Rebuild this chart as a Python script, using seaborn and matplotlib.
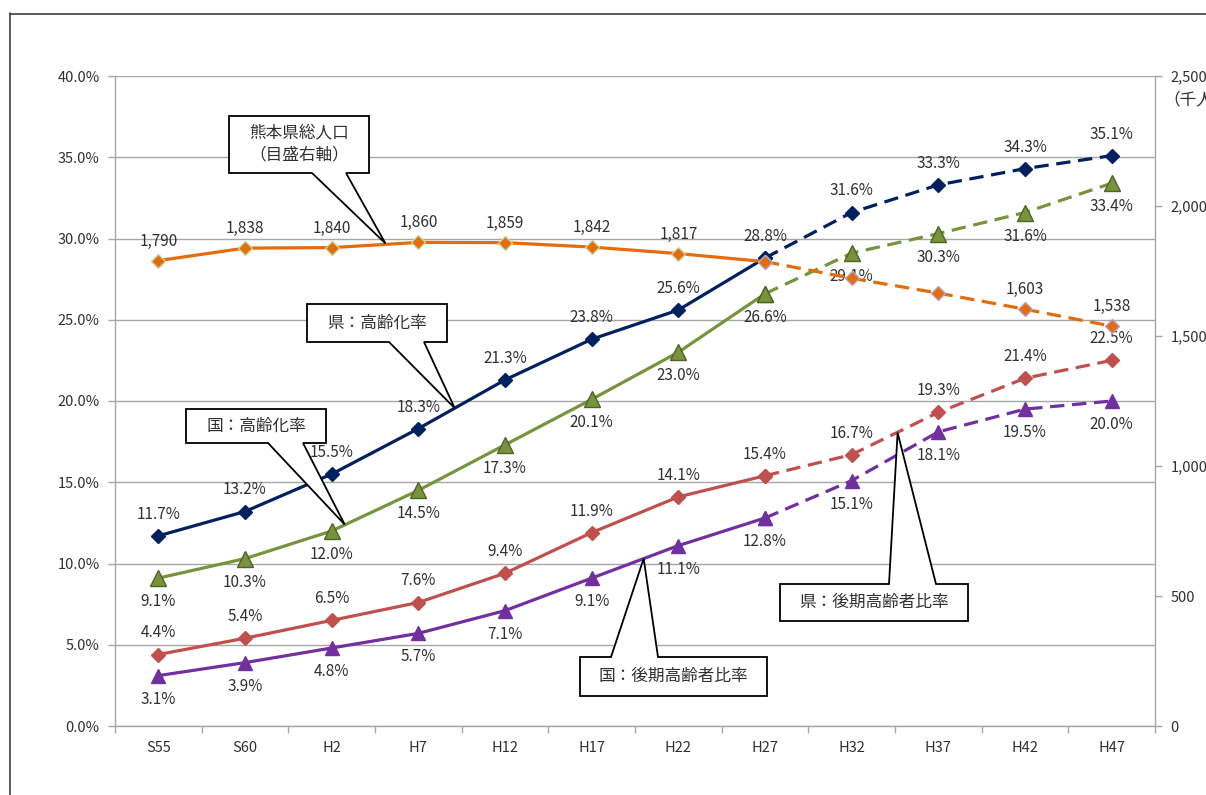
import numpy as np
import pandas as pd
import matplotlib
matplotlib.use("Agg")
import matplotlib.pyplot as plt
from matplotlib.patches import Polygon
from matplotlib.lines import Line2D
from matplotlib.ticker import FuncFormatter, FixedLocator
import seaborn as sns

# ---- data -------------------------------------------------------------
years = ["S55", "S60", "H2", "H7", "H12", "H17", "H22", "H27",
         "H32", "H37", "H42", "H47"]
pref_aging = [11.7, 13.2, 15.5, 18.3, 21.3, 23.8, 25.6, 28.8, 31.6, 33.3, 34.3, 35.1]
nation_aging = [9.1, 10.3, 12.0, 14.5, 17.3, 20.1, 23.0, 26.6, 29.1, 30.3, 31.6, 33.4]
pref_late = [4.4, 5.4, 6.5, 7.6, 9.4, 11.9, 14.1, 15.4, 16.7, 19.3, 21.4, 22.5]
nation_late = [3.1, 3.9, 4.8, 5.7, 7.1, 9.1, 11.1, 12.8, 15.1, 18.1, 19.5, 20.0]
population = [1790, 1838, 1840, 1860, 1859, 1842, 1817, 1786, 1722, 1665, 1603, 1538]
pop_labeled = [True, True, True, True, True, True, True, False, False, False, True, True]
last_actual = 7  # H27 is the last observed year; later points are projections

# ---- style ------------------------------------------------------------
sns.set_theme(style="white")
plt.rcParams["font.family"] = ["Noto Sans CJK JP", "DejaVu Sans"]
TXT = "#303030"
GRID = "#A6A6A6"

NAVY = "#002060"
GREEN = "#77933C"
GREEN_EDGE = "#4F6228"
RED = "#C0504D"
PURPLE = "#7030A0"
ORANGE = "#E46C0A"

W, H = 1206, 795
fig = plt.figure(figsize=(W / 100, H / 100), dpi=100)
L, R, T, B = 115, 1155, 76, 726
ax = fig.add_axes([L / W, 1 - B / H, (R - L) / W, (B - T) / H])
ax2 = ax.twinx()
ax2.set_position(ax.get_position())

x = np.arange(len(years))

df = pd.DataFrame({
    "x": x, "year": years,
    "pref_aging": pref_aging, "nation_aging": nation_aging,
    "pref_late": pref_late, "nation_late": nation_late,
    "population": population,
})
actual = df.iloc[: last_actual + 1]
proj = df.iloc[last_actual:]

DASH = (4.5, 2.4)


def draw_series(axis, col, color, marker, ms, mfc, mec_actual, mec_proj, z):
    for part, dashed, mec in ((actual, False, mec_actual), (proj, True, mec_proj)):
        sns.lineplot(data=part, x="x", y=col, ax=axis, color=color, lw=2.3,
                     marker=marker, markersize=ms, markerfacecolor=mfc,
                     markeredgecolor=mec, markeredgewidth=1.0, zorder=z)
        line = axis.lines[-1]
        if dashed:
            line.set_dashes(DASH)
        line.set_solid_capstyle("butt")


draw_series(ax, "nation_late", PURPLE, "^", 10, PURPLE, PURPLE, PURPLE, 3)
draw_series(ax, "pref_late", RED, "D", 7, RED, RED, RED, 3)
draw_series(ax, "nation_aging", GREEN, "^", 11, GREEN, GREEN_EDGE, GREEN_EDGE, 3)
draw_series(ax, "pref_aging", NAVY, "D", 7, NAVY, NAVY, NAVY, 3)
draw_series(ax2, "population", ORANGE, "D", 7, ORANGE, "#C3D69B", "#B3A2C7", 3)

# ---- data labels ------------------------------------------------------
LBL = 11


def pct_labels(vals, above):
    dy = 15.5 if above else -17
    for xi, v in zip(x, vals):
        ax.annotate(f"{v:.1f}%", (xi, v), xytext=(0, dy), textcoords="offset points",
                    ha="center", va="center", fontsize=LBL, color=TXT, zorder=2)


pct_labels(pref_aging, True)
pct_labels(nation_aging, False)
pct_labels(pref_late, True)
pct_labels(nation_late, False)

for xi, v, show in zip(x, population, pop_labeled):
    if show:
        ax2.annotate(f"{v:,}", (xi, v), xytext=(0, 14), textcoords="offset points",
                     ha="center", va="center", fontsize=LBL, color=TXT, zorder=2)

# ---- axes -------------------------------------------------------------
ax.set_xlim(-0.5, len(years) - 0.5)
ax.set_ylim(0, 40)
ax2.set_ylim(0, 2500)
ax.set_xlabel("")
ax.set_ylabel("")
ax2.set_ylabel("")

ax.set_yticks(np.arange(0, 40.1, 5))
ax.yaxis.set_major_formatter(FuncFormatter(lambda v, p: f"{v:.1f}%"))
ax2.set_yticks(np.arange(0, 2501, 500))
ax2.yaxis.set_major_formatter(FuncFormatter(lambda v, p: f"{v:,.0f}"))

ax.set_xticks(x)
ax.set_xticklabels(years)
ax.xaxis.set_minor_locator(FixedLocator(np.arange(-0.5, len(years), 1.0)))
ax.tick_params(axis="x", which="major", length=0, pad=11, labelsize=10.5, labelcolor=TXT)
ax.tick_params(axis="x", which="minor", length=5, width=1, color=GRID, direction="out",
               bottom=True)
ax.tick_params(axis="y", which="major", length=5, width=1, color=GRID, direction="out",
               pad=6, labelsize=10.5, labelcolor=TXT, left=True)
ax2.tick_params(axis="y", which="major", length=5, width=1, color=GRID, direction="out",
                pad=6, labelsize=10.5, labelcolor=TXT, right=True)
ax2.tick_params(axis="x", bottom=False, labelbottom=False)

ax.yaxis.grid(True, color=GRID, lw=1)
ax.xaxis.grid(False)
ax.set_axisbelow(True)

for a in (ax, ax2):
    a.spines["top"].set_visible(False)
    for s in ("left", "right", "bottom"):
        a.spines[s].set_color(GRID)
        a.spines[s].set_linewidth(1)
ax2.spines["left"].set_visible(False)
ax2.spines["bottom"].set_visible(False)
ax.spines["right"].set_visible(False)

fig.text(1163 / W, 1 - 100 / H, "（千人）", fontsize=12, color=TXT, va="center", ha="left")

# ---- callouts ---------------------------------------------------------
def to_frac(px, py):
    return (px - L) / (R - L), (B - py) / (B - T)


def callout(text, box_px, base_px, tip, pointer_down, fs=12):
    x0, y0, x1, y1 = box_px  # left, top, right, bottom in pixel layout
    fx0, fyt = to_frac(x0, y0)
    fx1, fyb = to_frac(x1, y1)
    b1 = to_frac(base_px[0], 0)[0]
    b2 = to_frac(base_px[1], 0)[0]
    disp = ax.transData.transform(tip)
    tx, ty = ax2.transAxes.inverted().transform(disp)
    if pointer_down:
        verts = [(fx0, fyt), (fx1, fyt), (fx1, fyb), (b2, fyb), (tx, ty), (b1, fyb), (fx0, fyb)]
    else:
        verts = [(fx0, fyb), (fx0, fyt), (b1, fyt), (tx, ty), (b2, fyt), (fx1, fyt), (fx1, fyb)]
    poly = Polygon(verts, closed=True, facecolor="white", edgecolor="black", lw=1.3,
                   transform=ax2.transAxes, clip_on=False, zorder=10)
    ax2.add_patch(poly)
    ax2.text((fx0 + fx1) / 2, (fyt + fyb) / 2, text, transform=ax2.transAxes,
             ha="center", va="center", fontsize=fs, color=TXT, zorder=11,
             linespacing=1.35)


callout("熊本県総人口\n（目盛右軸）", (229, 116, 369, 173), (312, 346), (2.62, 29.7), True)
callout("県：高齢化率", (307, 304, 447, 342), (389, 424), (3.42, 19.56), True)
callout("国：高齢化率", (186, 409, 326, 443), (268, 303), (2.15, 12.4), True)
callout("国：後期高齢者比率", (580, 657, 767, 696), (611, 658), (5.6, 10.3), False)
callout("県：後期高齢者比率", (780, 584, 968, 621), (889, 936), (8.53, 18.05), False)

# ---- outer frame ------------------------------------------------------
fig.add_artist(Line2D([9.5 / W, 9.5 / W], [1 - 13 / H, -0.1], color="#404040", lw=1.2,
                      transform=fig.transFigure))
fig.add_artist(Line2D([9.5 / W, 1.1], [1 - 13.5 / H, 1 - 13.5 / H], color="#404040", lw=1.2,
                      transform=fig.transFigure))

fig.savefig("out.png", dpi=100, facecolor="white")
